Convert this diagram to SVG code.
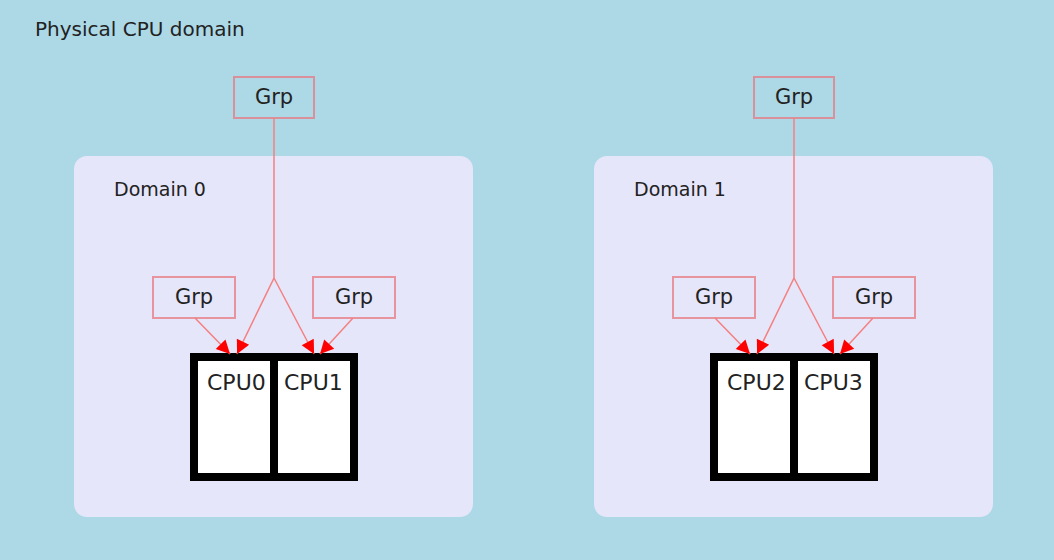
<svg xmlns="http://www.w3.org/2000/svg" width="1054" height="560" viewBox="0 0 1054 560">
<defs>
<style>
text{font-family:"DejaVu Sans","Liberation Sans",sans-serif;fill:#222;}
.dom{fill:#e6e6fa;}
.grp{fill:none;stroke:#e87880;stroke-opacity:0.75;stroke-width:2;}
.lbl{font-size:19px;}
.ttl{font-size:20px;}
.gl{font-size:21px;text-anchor:middle;}
.cl{font-size:22px;}
.edge{fill:none;stroke:#f48080;stroke-width:1.5;marker-end:url(#ah);}
.cpu{fill:#fff;}
</style>
<marker id="ah" viewBox="0 0 10 10" refX="10" refY="5" markerWidth="8" markerHeight="8" markerUnits="userSpaceOnUse" orient="auto" style="overflow:visible">
<path d="M0,0 L10,5 L0,10 z" fill="#ff0000" transform="scale(1.7) translate(-4.1,-2.1)"/>
</marker>
</defs>
<rect width="1054" height="560" fill="#add8e6"/>
<text class="ttl" x="35" y="36">Physical CPU domain</text>

<g id="domain0">
<rect class="dom" x="74" y="156" width="399" height="361" rx="13"/>
<text class="lbl" x="114" y="196">Domain 0</text>
</g>
<g id="domain1">
<rect class="dom" x="594" y="156" width="399" height="361" rx="13"/>
<text class="lbl" x="634" y="196">Domain 1</text>
</g>

<g id="grp-top0"><rect class="grp" x="234" y="77" width="80" height="41"/><text class="gl" x="274" y="104">Grp</text></g>
<g id="grp-top1"><rect class="grp" x="754" y="77" width="80" height="41"/><text class="gl" x="794" y="104">Grp</text></g>
<g id="grp-cpu0"><rect class="grp" x="153" y="277" width="82" height="41"/><text class="gl" x="194" y="304">Grp</text></g>
<g id="grp-cpu1"><rect class="grp" x="313" y="277" width="82" height="41"/><text class="gl" x="354" y="304">Grp</text></g>
<g id="grp-cpu2"><rect class="grp" x="673" y="277" width="82" height="41"/><text class="gl" x="714" y="304">Grp</text></g>
<g id="grp-cpu3"><rect class="grp" x="833" y="277" width="82" height="41"/><text class="gl" x="874" y="304">Grp</text></g>

<g id="cpus01">
<rect x="190" y="353" width="168" height="128" fill="#000"/>
<rect class="cpu" x="198" y="361" width="72" height="112"/>
<rect class="cpu" x="278" y="361" width="72" height="112"/>
<text class="cl" x="207" y="390">CPU0</text>
<text class="cl" x="284" y="390">CPU1</text>
</g>
<g id="cpus23">
<rect x="710" y="353" width="168" height="128" fill="#000"/>
<rect class="cpu" x="718" y="361" width="72" height="112"/>
<rect class="cpu" x="798" y="361" width="72" height="112"/>
<text class="cl" x="727" y="390">CPU2</text>
<text class="cl" x="804" y="390">CPU3</text>
</g>

<g id="connectors">
<path class="edge" d="M274,118 L274,278 L237,354"/>
<path class="edge" d="M274,278 L314,354"/>
<path class="edge" d="M195,318 L230,354"/>
<path class="edge" d="M353,318 L320,354"/>
<path class="edge" d="M794,118 L794,278 L757,354"/>
<path class="edge" d="M794,278 L834,354"/>
<path class="edge" d="M715,318 L750,354"/>
<path class="edge" d="M873,318 L840,354"/>
</g>
</svg>
